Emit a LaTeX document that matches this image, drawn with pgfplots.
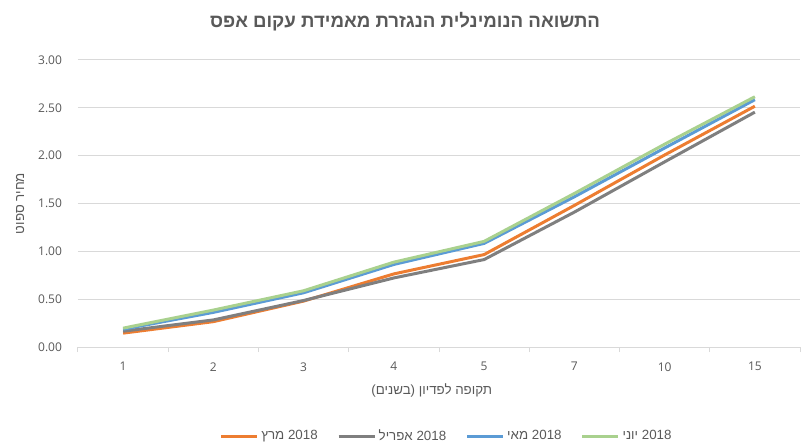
\documentclass[border=0pt]{standalone}
\usepackage{fontspec}
\setmainfont{Open Sans}
\newfontfamily\heb[Script=Hebrew]{Liberation Sans}
\usepackage{pgfplots}
\pgfplotsset{compat=1.18}
\TeXXeTstate=1
\definecolor{cOr}{HTML}{ED7D31}
\definecolor{cGr}{HTML}{7F7F7F}
\definecolor{cBl}{HTML}{5B9BD5}
\definecolor{cGn}{HTML}{A9D18E}
\definecolor{gridc}{HTML}{D9D9D9}
\definecolor{txt}{HTML}{595959}
\begin{document}
\begin{tikzpicture}
\useasboundingbox (0,0) rectangle (601.5pt,332.25pt);
\begin{axis}[
  at={(58.5pt,72pt)}, anchor=south west,
  scale only axis, width=541.5pt, height=215.25pt,
  xmin=-0.5, xmax=7.5, ymin=0, ymax=3,
  xtick={0,...,7}, xticklabels={1,2,3,4,5,7,10,15},
  minor xtick={-0.5,0.5,...,7.5},
  major tick length=0pt,
  minor tick length=3.75pt,
  tick align=outside, xtick pos=bottom, ytick pos=left,
  minor x tick style={draw=gridc, line width=0.75pt},
  major tick style={draw=none},
  ytick={0,0.5,...,3},
  ymajorgrids, grid style={gridc, line width=0.75pt},
  axis line style={draw=none},
  /pgf/number format/assume math mode=true,
  font=\fontsize{9}{11}\selectfont,
  every tick label/.append style={text=txt},
  yticklabel style={/pgf/number format/.cd, fixed, fixed zerofill, precision=2, /tikz/.cd, xshift=-8.5pt},
  xticklabel style={yshift=-8pt},
  xlabel={\heb\beginR תקופה לפדיון (בשנים)\endR},
  xlabel style={at={(axis description cs:0.49,0)}, anchor=center, yshift=-32.5pt, text=txt, font=\fontsize{10}{12}\selectfont},
  ylabel={\heb\beginR מחיר ספוט\endR},
  ylabel style={at={(axis description cs:-0.0803,0.5)}, anchor=center, text=txt, font=\fontsize{10}{12}\selectfont},
  title={\heb\bfseries\beginR התשואה הנומינלית הנגזרת מאמידת עקום אפס\endR},
  title style={at={(axis description cs:0.453,1)}, anchor=center, yshift=23pt, text=txt, font=\fontsize{14}{16}\selectfont},
  legend style={at={(axis description cs:0.511,0)}, anchor=center, yshift=-66.75pt, draw=none, fill=none, font=\fontsize{10}{12}\selectfont, text=txt,
    /tikz/every even column/.append style={column sep=12.5pt},
    /tikz/every odd column/.append style={column sep=0pt}},
  legend columns=4,
  legend cell align=left,
  legend image code/.code={\draw[#1] (0pt,0pt) -- (27pt,0pt);},
  every axis plot/.append style={line width=2.25pt, line join=round, mark=none},
]
\addplot[cOr] coordinates {(0,0.145) (1,0.265) (2,0.48) (3,0.764) (4,0.966) (5,1.48) (6,2.007) (7,2.517)};
\addlegendentry{\heb\beginR\beginL 2018\endL{} מרץ\endR}
\addplot[cGr] coordinates {(0,0.165) (1,0.283) (2,0.486) (3,0.722) (4,0.914) (5,1.41) (6,1.935) (7,2.455)};
\addlegendentry{\heb\beginR\beginL 2018\endL{} אפריל\endR}
\addplot[cBl] coordinates {(0,0.186) (1,0.362) (2,0.567) (3,0.863) (4,1.083) (5,1.57) (6,2.08) (7,2.585)};
\addlegendentry{\heb\beginR\beginL 2018\endL{} מאי\endR}
\addplot[cGn] coordinates {(0,0.197) (1,0.386) (2,0.588) (3,0.887) (4,1.104) (5,1.605) (6,2.12) (7,2.616)};
\addlegendentry{\heb\beginR\beginL 2018\endL{} יוני\endR}
\end{axis}
\end{tikzpicture}
\end{document}
